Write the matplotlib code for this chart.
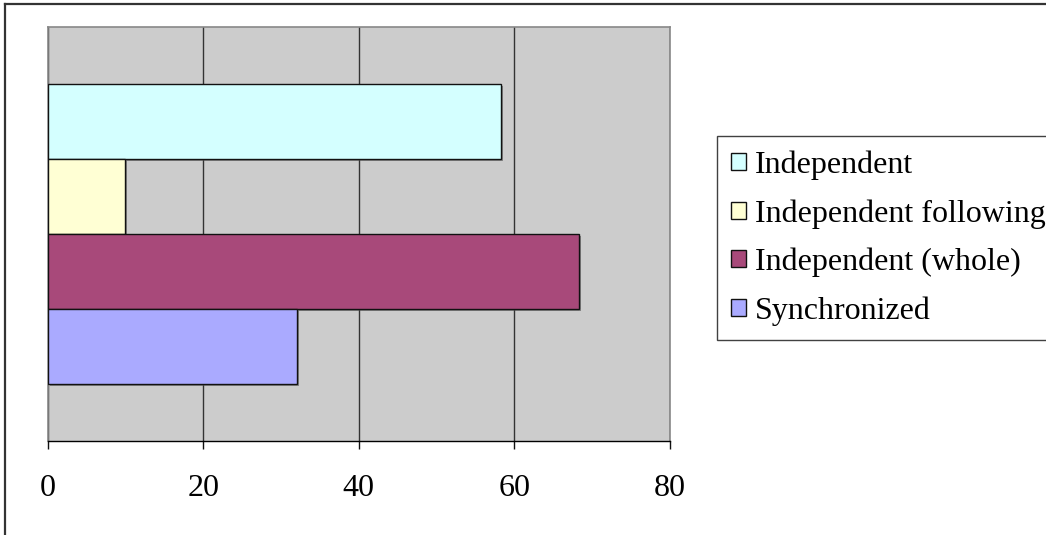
import matplotlib.pyplot as plt
import matplotlib.patheffects as pe
from matplotlib.lines import Line2D

plt.rcParams['font.family'] = ['Liberation Serif', 'DejaVu Serif']

# one group, four series (drawn top to bottom)
series = ['Independent', 'Independent following', 'Independent (whole)', 'Synchronized']
values = [58.3, 10.0, 68.3, 32.0]
colors = ['#d4ffff', '#ffffd4', '#a8497a', '#aaaaff']
x_ticks = [0, 20, 40, 60, 80]

fig = plt.figure(figsize=(10.46, 5.35), dpi=100)
ax = fig.add_axes([47.5 / 1046, 1 - 441 / 535, 622.5 / 1046, 414 / 535])
ax.set_facecolor('#cccccc')

shadow = [pe.SimplePatchShadow(offset=(1.5, -1.5), shadow_rgbFace='#555555', alpha=0.6), pe.Normal()]
handles = []
for i, (name, val, col) in enumerate(zip(series, values, colors)):
    b = ax.barh(i, val, height=1.0, color=col, edgecolor='#111111', linewidth=1.0,
                label=name, zorder=3, path_effects=shadow)
    handles.append(b)

ax.set_xlim(0, 80)
ax.set_ylim(4.26, -1.26)
ax.set_xticks(x_ticks)
ax.set_yticks([])
ax.tick_params(axis='x', length=6, width=1, color='#111111', pad=18, labelsize=23)

ax.set_axisbelow(True)
ax.grid(axis='x', color='#333333', linewidth=1.0, zorder=1)

for side in ['left', 'top', 'right']:
    ax.spines[side].set_color('#888888')
    ax.spines[side].set_linewidth(1.2)
ax.spines['bottom'].set_color('#000000')
ax.spines['bottom'].set_linewidth(1.0)

leg = fig.legend(handles=handles, labels=series, loc='upper left',
                 bbox_to_anchor=(717 / 1046, 1 - 136 / 535, 0.4, 0.0),
                 mode='expand', borderaxespad=0, fancybox=False, shadow=False,
                 fontsize=23, handlelength=0.45, handleheight=0.45,
                 handletextpad=0.3, labelspacing=0.6, borderpad=0.45, frameon=True)
leg.get_frame().set_edgecolor('#111111')
leg.get_frame().set_linewidth(1.0)
for h in leg.legend_handles:
    h.set_path_effects([])
    h.set_linewidth(1.0)

# outer border on left and top
fig.add_artist(Line2D([5 / 1046, 5 / 1046], [0, 1 - 4 / 535], transform=fig.transFigure,
                      color='#333333', linewidth=1.6))
fig.add_artist(Line2D([5 / 1046, 1], [1 - 4 / 535, 1 - 4 / 535], transform=fig.transFigure,
                      color='#333333', linewidth=1.6))

fig.savefig('out.png', dpi=100)
